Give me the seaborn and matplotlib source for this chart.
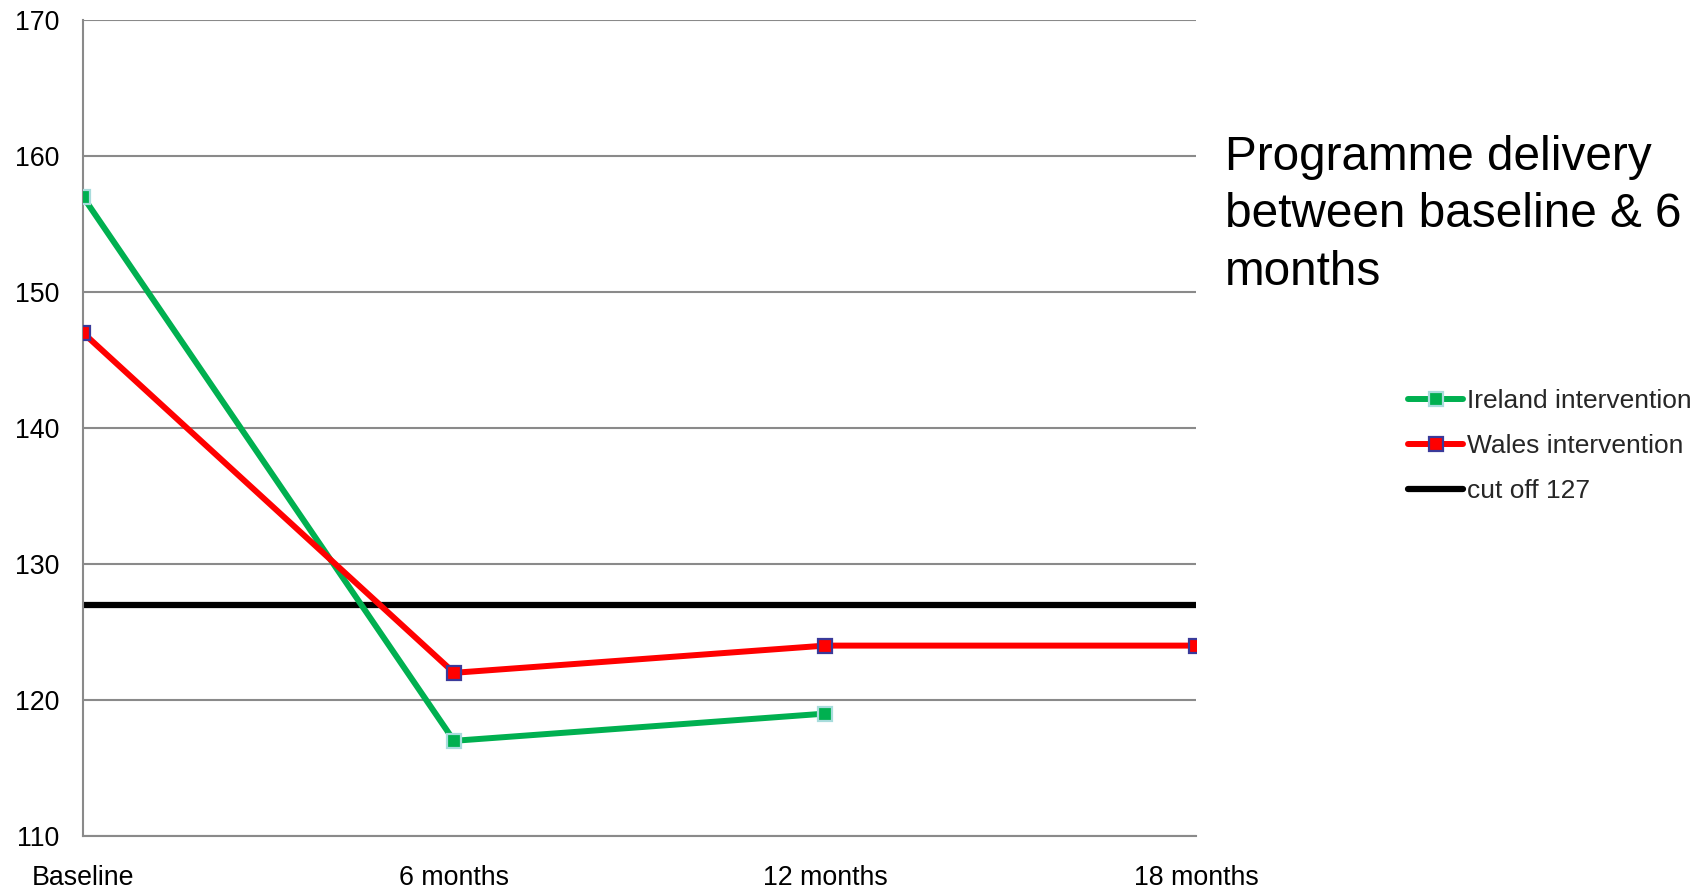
import numpy as np
import pandas as pd
import matplotlib
matplotlib.use("Agg")
import matplotlib.pyplot as plt
import seaborn as sns

# Time points and measurements
timepoints = ["Baseline", "6 months", "12 months", "18 months"]
ireland = [157, 117, 119, np.nan]
wales = [147, 122, 124, 124]
cutoff = 127

sns.set_theme(style="white")
plt.rcParams["font.family"] = ["Liberation Sans", "DejaVu Sans"]

pos = np.arange(len(timepoints))
df = pd.DataFrame({
    "pos": np.concatenate([pos, pos]),
    "value": ireland + wales,
    "series": ["Ireland intervention"] * len(pos) + ["Wales intervention"] * len(pos),
})

fig = plt.figure(figsize=(17.02, 8.89), dpi=100)
ax = fig.add_axes([0.0488, 0.0596, 0.6539, 0.9179])

grid_c = "#8a8a8a"
for y in range(110, 171, 10):
    ax.axhline(y, color=grid_c, lw=1.5, zorder=0)

sns.lineplot(data=df[df.series == "Ireland intervention"].dropna(), x="pos", y="value",
             color="#00B050", lw=4.3, marker="s", markersize=9.5,
             markerfacecolor="#00B050", markeredgecolor="#A8DCDC", markeredgewidth=1.6,
             label="Ireland intervention", ax=ax, zorder=3)
sns.lineplot(data=df[df.series == "Wales intervention"], x="pos", y="value",
             color="#FF0000", lw=4.3, marker="s", markersize=9.5,
             markerfacecolor="#FF0000", markeredgecolor="#3A3A9A", markeredgewidth=1.6,
             label="Wales intervention", ax=ax, zorder=3)
sns.lineplot(x=pos, y=[cutoff] * len(pos), color="black", lw=4.5,
             label="cut off 127", ax=ax, zorder=2, solid_capstyle="round")

ax.set_xlim(0, 3)
ax.set_ylim(110, 170)
ax.set_xticks(pos)
ax.set_xticklabels(timepoints)
ax.set_yticks(range(110, 171, 10))
ax.set_xlabel("")
ax.set_ylabel("")

for side in ["top", "right"]:
    ax.spines[side].set_visible(False)
for side in ["left", "bottom"]:
    ax.spines[side].set_color(grid_c)
    ax.spines[side].set_linewidth(1.5)

ax.tick_params(axis="both", which="major", labelsize=19.3, colors=grid_c,
               labelcolor="black", length=7, width=1.5, direction="out")
ax.tick_params(axis="y", pad=10)
ax.tick_params(axis="x", pad=15, length=6)
ax.set_axisbelow(True)

leg = ax.legend(loc="upper left", bbox_to_anchor=(0.821, 0.574), bbox_transform=fig.transFigure,
                frameon=False, fontsize=19, handlelength=2.1, handletextpad=0.15,
                labelspacing=0.79, borderaxespad=0)

fig.text(0.7197, 0.8484, "Programme delivery\nbetween baseline & 6\nmonths",
         fontsize=34.4, va="top", ha="left", linespacing=1.36, color="black")

fig.savefig("out.png", dpi=100)
